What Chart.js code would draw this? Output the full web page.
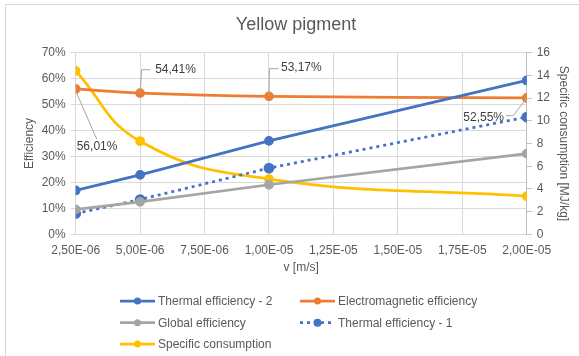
<!DOCTYPE html>
<html>
<head>
<meta charset="utf-8">
<script src="https://cdn.jsdelivr.net/npm/chart.js@4.4.0/dist/chart.umd.min.js"></script>
<style>
  html, body { margin: 0; padding: 0; background: #fff; overflow: hidden; }
  #frame { position: absolute; left: 5px; top: 4px; width: 620px; height: 400px; border: 1px solid #d9d9d9; }
  #wrap { position: absolute; left: 0; top: 0; width: 579px; height: 356px; }
</style>
</head>
<body>
<div id="frame"></div>
<div id="wrap"><canvas id="chart"></canvas></div>
<script>
// data
const velocity = [2.5e-6, 5e-6, 1e-5, 2e-5];
const xTicks = [2.5e-6, 5e-6, 7.5e-6, 1e-5, 1.25e-5, 1.5e-5, 1.75e-5, 2e-5];
const thermal2 = [16.9, 22.9, 36.0, 59.3];
const electromagnetic = [56.01, 54.41, 53.17, 52.55];
const globalEff = [9.6, 12.5, 19.1, 31.1];
const thermal1 = [8.0, 13.4, 25.5, 45.2];
const specificConsumption = [14.4, 8.2, 4.87, 3.35];

const textColor = '#595959';
const gridColor = '#d9d9d9';
const fontFamily = '"Liberation Sans", Arial, sans-serif';

// Excel-like "2,50E-06"
const fmtSci = v => {
  const [m, e] = v.toExponential(2).split('e');
  const n = parseInt(e, 10);
  return m.replace('.', ',') + 'E' + (n < 0 ? '-' : '+') + String(Math.abs(n)).padStart(2, '0');
};

const pts = arr => arr.map((y, i) => ({ x: velocity[i], y: y }));

// leader-line labels for the electromagnetic series (offsets relative to point)
const labelLayout = [
  { line: [[0, 2], [21, 50]], text: [1, 58], align: 'left' },
  { line: [[0, 0], [1.5, -23.4], [10, -23.4]], text: [15, -23.4], align: 'left' },
  { line: [[0, 0], [0.5, -27.7], [9.5, -27.7]], text: [12, -28.3], align: 'left' },
  { line: [[0, 0], [-13.4, 17.7], [-20.7, 17.7]], text: [-22.7, 19.4], align: 'right' }
];

const emLabels = {
  id: 'emLabels',
  afterDatasetsDraw(chart) {
    const ctx = chart.ctx;
    const meta = chart.getDatasetMeta(1);
    ctx.save();
    ctx.font = '12px ' + fontFamily;
    ctx.fillStyle = '#404040';
    ctx.strokeStyle = '#a6a6a6';
    ctx.lineWidth = 1;
    ctx.textBaseline = 'middle';
    meta.data.forEach((p, i) => {
      const l = labelLayout[i];
      ctx.beginPath();
      l.line.forEach(([dx, dy], k) => {
        if (k === 0) ctx.moveTo(p.x + dx, p.y + dy);
        else ctx.lineTo(p.x + dx, p.y + dy);
      });
      ctx.stroke();
      ctx.textAlign = l.align;
      ctx.fillText(electromagnetic[i].toFixed(2).replace('.', ',') + '%', p.x + l.text[0], p.y + l.text[1]);
    });
    ctx.restore();
  }
};

// two-column legend like the Excel one
const legendSlots = [[120, 301], [300, 301], [120, 322.7], [300, 322.7], [120, 344]];
const columnLegend = {
  id: 'columnLegend',
  afterDraw(chart) {
    const ctx = chart.ctx;
    ctx.save();
    ctx.font = '12px ' + fontFamily;
    ctx.textBaseline = 'middle';
    ctx.textAlign = 'left';
    chart.data.datasets.forEach((ds, i) => {
      const [x, y] = legendSlots[i];
      ctx.strokeStyle = ds.borderColor;
      ctx.lineWidth = ds.borderWidth;
      ctx.setLineDash(ds.borderDash || []);
      ctx.beginPath();
      ctx.moveTo(x, y);
      ctx.lineTo(x + 35, y);
      ctx.stroke();
      ctx.setLineDash([]);
      ctx.fillStyle = ds.borderColor;
      ctx.beginPath();
      ctx.arc(x + 17.5, y, ds.pointRadius, 0, Math.PI * 2);
      ctx.fill();
      ctx.fillStyle = textColor;
      ctx.fillText(ds.label, x + 38, y + 0.5);
    });
    ctx.restore();
  }
};

const series = (label, data, color, axis, extra) => Object.assign({
  label: label,
  data: pts(data),
  yAxisID: axis,
  borderColor: color,
  backgroundColor: color,
  pointBackgroundColor: color,
  pointBorderColor: color,
  borderWidth: 2.75,
  pointRadius: 3.5,
  pointHoverRadius: 3.5,
  tension: 0
}, extra || {});

new Chart(document.getElementById('chart'), {
  type: 'line',
  data: {
    datasets: [
      series('Thermal efficiency - 2', thermal2, '#4472c4', 'y'),
      series('Electromagnetic efficiency', electromagnetic, '#ed7d31', 'y', { tension: 0.4 }),
      series('Global efficiency', globalEff, '#a5a5a5', 'y'),
      series('Thermal efficiency - 1', thermal1, '#4472c4', 'y', { borderDash: [3, 4], pointRadius: 4, pointHoverRadius: 4 }),
      series('Specific consumption', specificConsumption, '#ffc000', 'y1', { tension: 0.45 })
    ]
  },
  options: {
    responsive: true,
    maintainAspectRatio: false,
    animation: false,
    layout: { padding: { left: 13, right: 0, top: 0, bottom: 76.7 } },
    plugins: {
      legend: { display: false },
      tooltip: { enabled: false },
      title: {
        display: true,
        text: 'Yellow pigment',
        color: textColor,
        font: { family: fontFamily, size: 18, weight: 'normal' },
        padding: { top: 14.2, bottom: 16.9 }
      }
    },
    scales: {
      x: {
        type: 'linear',
        min: 2.5e-6,
        max: 2e-5,
        afterBuildTicks: s => { s.ticks = xTicks.map(v => ({ value: v })); },
        afterFit: s => { s.height = 45; },
        grid: { color: gridColor, drawTicks: false },
        border: { color: gridColor },
        ticks: {
          color: textColor,
          font: { family: fontFamily, size: 12 },
          padding: 9,
          maxRotation: 0,
          autoSkip: false,
          callback: v => fmtSci(v)
        },
        title: {
          display: true,
          text: 'v [m/s]',
          color: textColor,
          font: { family: fontFamily, size: 12 },
          padding: { top: 0, bottom: 4.1 }
        }
      },
      y: {
        position: 'left',
        min: 0,
        max: 70,
        afterFit: s => { s.width = 62.7; },
        grid: { color: gridColor, tickLength: 5 },
        border: { color: gridColor },
        ticks: {
          stepSize: 10,
          color: textColor,
          font: { family: fontFamily, size: 12 },
          padding: 5,
          callback: v => v + '%'
        },
        title: {
          display: true,
          text: 'Efficiency',
          color: textColor,
          font: { family: fontFamily, size: 12 },
          padding: { top: 9.8, bottom: 0 }
        }
      },
      y1: {
        position: 'right',
        min: 0,
        max: 16,
        afterFit: s => { s.width = 52.3; },
        grid: { drawOnChartArea: false, color: '#bfbfbf', tickLength: 5 },
        border: { color: '#bfbfbf' },
        ticks: {
          stepSize: 2,
          color: textColor,
          font: { family: fontFamily, size: 12 },
          padding: 5
        },
        title: {
          display: true,
          text: 'Specific consumption [MJ/kg]',
          color: textColor,
          font: { family: fontFamily, size: 12 },
          padding: { top: 8.8, bottom: 0 }
        }
      }
    }
  },
  plugins: [emLabels, columnLegend]
});
</script>
</body>
</html>
